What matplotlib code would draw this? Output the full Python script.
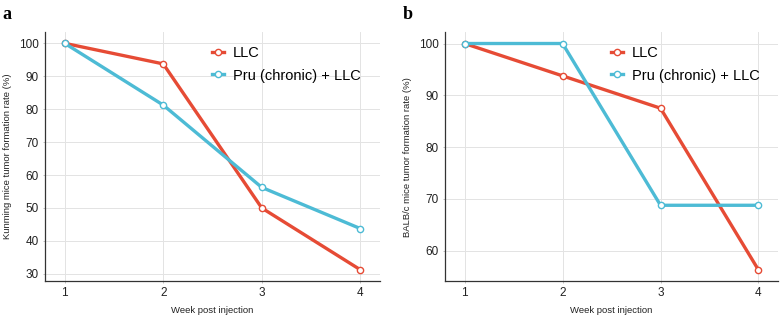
import numpy as np
import matplotlib.pyplot as plt

plt.rcParams['font.family'] = ['Liberation Sans', 'DejaVu Sans']

weeks = [1, 2, 3, 4]
kunming_llc = [100, 93.75, 50, 31.25]
kunming_pru = [100, 81.25, 56.25, 43.75]
balbc_llc = [100, 93.75, 87.5, 56.25]
balbc_pru = [100, 100, 68.75, 68.75]
series_names = ['LLC', 'Pru (chronic) + LLC']

red = '#E64B35'
cyan = '#4DBBD5'

fig = plt.figure(figsize=(7.82, 3.18), dpi=100)
ax1 = fig.add_axes([0.0575, 0.116, 0.4285, 0.783])
ax2 = fig.add_axes([0.569, 0.116, 0.426, 0.783])

def panel(ax, llc, pru, ylabel, ylim, yticks, letter):
    for vals, col, name in [(llc, red, series_names[0]), (pru, cyan, series_names[1])]:
        ax.plot(weeks, vals, color=col, linewidth=2.4, marker='o', markersize=4.5,
                markerfacecolor='white', markeredgecolor=col, markeredgewidth=1.0, label=name)
    ax.set_xlim(0.8, 4.2)
    ax.set_ylim(*ylim)
    ax.set_xticks(weeks)
    ax.set_yticks(yticks)
    ax.grid(True, color='#e3e3e3', linewidth=0.7)
    ax.set_axisbelow(True)
    for s in ['top', 'right']:
        ax.spines[s].set_visible(False)
    for s in ['left', 'bottom']:
        ax.spines[s].set_color('#333333')
        ax.spines[s].set_linewidth(0.9)
    ax.tick_params(axis='both', length=1.5, width=0.5, color='#aaaaaa', labelsize=8.5, labelcolor='#222222', pad=3)
    ax.set_xlabel('Week post injection', fontsize=6.8, labelpad=5, color='#222222')
    ax.set_ylabel(ylabel, fontsize=6.8, labelpad=5, color='#222222')
    leg = ax.legend(loc='upper left', bbox_to_anchor=(0.46, 0.995), frameon=False, fontsize=10.5,
                    handlelength=0.8, handletextpad=0.6, labelspacing=0.55)
    for h in leg.legend_handles:
        h.set_linewidth(2.4)
    fig.text(ax.get_position().x0 - 0.054, 0.955, letter, fontsize=13, fontweight='bold',
             family='Liberation Serif', va='center')

panel(ax1, kunming_llc, kunming_pru, 'Kunming mice tumor formation rate (%)',
      (27.8, 103.4), [30, 40, 50, 60, 70, 80, 90, 100], 'a')
panel(ax2, balbc_llc, balbc_pru, 'BALB/c mice tumor formation rate (%)',
      (54.1, 102.2), [60, 70, 80, 90, 100], 'b')

plt.savefig('out.png', dpi=100)
